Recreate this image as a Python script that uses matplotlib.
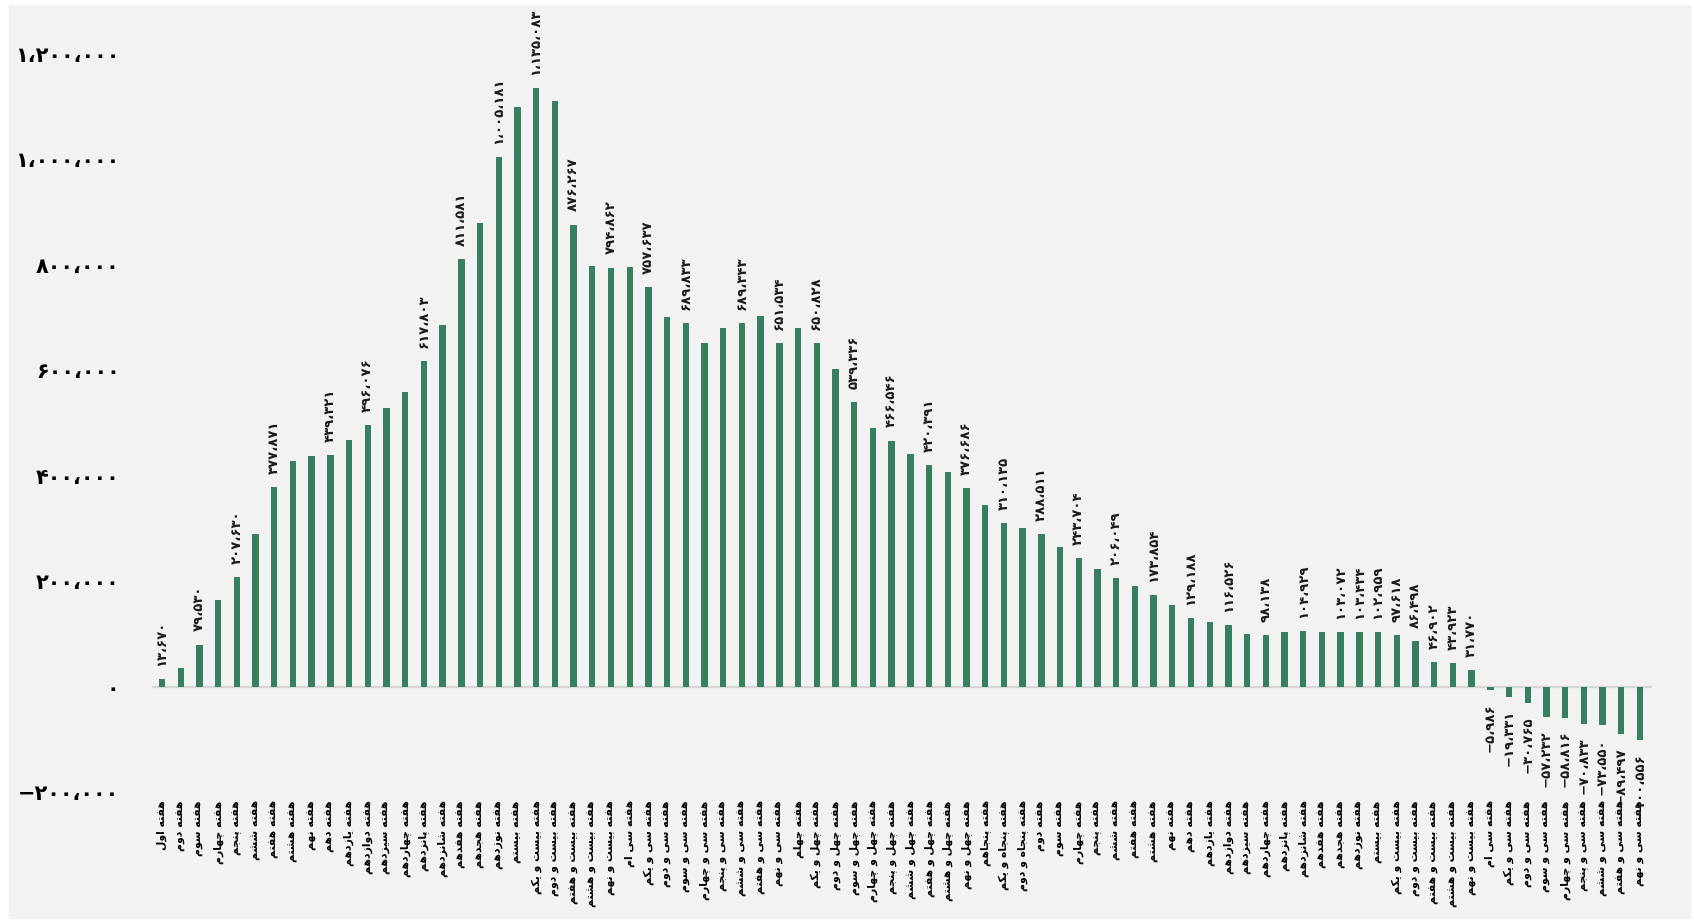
import matplotlib
matplotlib.use("Agg")
import matplotlib.pyplot as plt
from matplotlib.patches import Rectangle
from matplotlib.ticker import FuncFormatter

plt.rcParams['font.family'] = ['DejaVu Sans']

# data: weekly values (two years, some weeks missing)
weeks_y1 = ['اول', 'دوم', 'سوم', 'چهارم', 'پنجم', 'ششم', 'هفتم', 'هشتم', 'نهم', 'دهم',
            'یازدهم', 'دوازدهم', 'سیزدهم', 'چهاردهم', 'پانزدهم', 'شانزدهم', 'هفدهم',
            'هجدهم', 'نوزدهم', 'بیستم', 'بیست و یکم', 'بیست و دوم', 'بیست و هفتم',
            'بیست و هشتم', 'بیست و نهم', 'سی ام', 'سی و یکم', 'سی و دوم', 'سی و سوم',
            'سی و چهارم', 'سی و پنجم', 'سی و ششم', 'سی و هفتم', 'سی و نهم', 'چهلم',
            'چهل و یکم', 'چهل و دوم', 'چهل و سوم', 'چهل و چهارم', 'چهل و پنجم',
            'چهل و ششم', 'چهل و هفتم', 'چهل و هشتم', 'چهل و نهم', 'پنجاهم',
            'پنجاه و یکم', 'پنجاه و دوم']
weeks_y2 = ['دوم', 'سوم', 'چهارم', 'پنجم', 'ششم', 'هفتم', 'هشتم', 'نهم', 'دهم',
            'یازدهم', 'دوازدهم', 'سیزدهم', 'چهاردهم', 'پانزدهم', 'شانزدهم', 'هفدهم',
            'هجدهم', 'نوزدهم', 'بیستم', 'بیست و یکم', 'بیست و دوم', 'بیست و هفتم',
            'بیست و هشتم', 'بیست و نهم', 'سی ام', 'سی و یکم', 'سی و دوم', 'سی و سوم',
            'سی و چهارم', 'سی و پنجم', 'سی و ششم', 'سی و هفتم', 'سی و نهم']
week_labels = ['هفته ' + w for w in weeks_y1 + weeks_y2]

values = [13670, 35000, 79530, 165000, 207630, 289000, 377871, 428000, 437000, 439321,
          467000, 496076, 528000, 559000, 617803, 685000, 811581, 880000, 1005181, 1100000,
          1135083, 1111000, 876267, 797000, 794862, 795000, 757637, 702000, 689833, 652000,
          680000, 689343, 703000, 651534, 680000, 650828, 603000, 539336, 490000, 466546,
          441000, 420391, 407000, 376686, 344000, 310135, 301000, 288511, 264000, 243704,
          223000, 206049, 190000, 173854, 155000, 129188, 123000, 116526, 100000, 98138,
          103500, 104929, 103500, 103072, 103434, 102959, 97618, 86498, 46902, 43923,
          31770, -5986, -19331, -30765, -57232, -58816, -70833, -73550, -89497, -100556]

# weeks (1-based) that carry a value label
labeled = [1, 3, 5, 7, 10, 12, 15, 17, 19, 21, 23, 25, 27, 29, 32, 34, 36, 38, 40, 42,
           44, 46, 48, 50, 52, 54, 56, 58, 60, 62] + list(range(64, 81))

y_ticks = [-200000, 0, 200000, 400000, 600000, 800000, 1000000, 1200000]

# --- simple persian shaping (matplotlib has no bidi / joining) ---
FORMS = {
    'ا': ('\uFE8D', '\uFE8E', None, None),
    'ب': ('\uFE8F', '\uFE90', '\uFE91', '\uFE92'),
    'پ': ('\uFB56', '\uFB57', '\uFB58', '\uFB59'),
    'ت': ('\uFE95', '\uFE96', '\uFE97', '\uFE98'),
    'ج': ('\uFE9D', '\uFE9E', '\uFE9F', '\uFEA0'),
    'چ': ('\uFB7A', '\uFB7B', '\uFB7C', '\uFB7D'),
    'د': ('\uFEA9', '\uFEAA', None, None),
    'ر': ('\uFEAD', '\uFEAE', None, None),
    'ز': ('\uFEAF', '\uFEB0', None, None),
    'س': ('\uFEB1', '\uFEB2', '\uFEB3', '\uFEB4'),
    'ش': ('\uFEB5', '\uFEB6', '\uFEB7', '\uFEB8'),
    'ف': ('\uFED1', '\uFED2', '\uFED3', '\uFED4'),
    'ک': ('\uFB8E', '\uFB8F', '\uFB90', '\uFB91'),
    'ل': ('\uFEDD', '\uFEDE', '\uFEDF', '\uFEE0'),
    'م': ('\uFEE1', '\uFEE2', '\uFEE3', '\uFEE4'),
    'ن': ('\uFEE5', '\uFEE6', '\uFEE7', '\uFEE8'),
    'ه': ('\uFEE9', '\uFEEA', '\uFEEB', '\uFEEC'),
    'و': ('\uFEED', '\uFEEE', None, None),
    'ی': ('\uFBFC', '\uFBFD', '\uFBFE', '\uFBFF'),
}


def shape(text):
    out = []
    for i, ch in enumerate(text):
        if ch not in FORMS:
            out.append(ch)
            continue
        prev = text[i - 1] if i > 0 else ''
        nxt = text[i + 1] if i + 1 < len(text) else ''
        join_prev = prev in FORMS and FORMS[prev][2] is not None
        join_next = FORMS[ch][2] is not None and nxt in FORMS
        iso, fin, ini, med = FORMS[ch]
        if join_prev and join_next:
            out.append(med)
        elif join_prev:
            out.append(fin)
        elif join_next:
            out.append(ini)
        else:
            out.append(iso)
    return ''.join(out)[::-1]


FA_DIGITS = str.maketrans('0123456789', '۰۱۲۳۴۵۶۷۸۹')


def fa_num(v):
    s = f"{abs(int(v)):,}".replace(',', '،').translate(FA_DIGITS)
    return '−' + s if v < 0 else s


fig = plt.figure(figsize=(16.94, 9.22), dpi=100, facecolor='white')
fig.patches.append(Rectangle((9 / 1694, 4 / 922), 1681 / 1694, 913 / 922,
                             transform=fig.transFigure, color='#f2f2f2', zorder=-10))

# axes box: y=-200k at 792 px, y=1.2M at 54 px from the top
ax = fig.add_axes([151.5 / 1694, 1 - 792 / 922, (1652 - 151.5) / 1694, (792 - 54) / 922])
ax.set_facecolor('none')

x = list(range(1, len(values) + 1))
ax.bar(x, values, width=0.34, color='#36805f', zorder=3)
ax.axhline(0, color='#d6d6d6', lw=1.6, zorder=2)

for n in labeled:
    v = values[n - 1]
    if v >= 0:
        ax.annotate(fa_num(v), (n, v), xytext=(0, 9.5), textcoords='offset points',
                    rotation=90, ha='center', va='bottom', fontsize=9.5,
                    fontweight='bold', color='#1a1a1a')
    else:
        ax.annotate(fa_num(v), (n, v), xytext=(0, -9.5), textcoords='offset points',
                    rotation=90, ha='center', va='top', fontsize=9.5,
                    fontweight='bold', color='#1a1a1a')

ax.set_xlim(0.44, 80.64)
ax.set_ylim(-200000, 1200000)
ax.set_yticks(y_ticks)
ax.yaxis.set_major_formatter(FuncFormatter(lambda v, p: fa_num(v)))
ax.set_xticks(x)
ax.set_xticklabels([shape(t) for t in week_labels], rotation=90, fontsize=7.8,
                   fontweight='bold')
ax.tick_params(axis='y', length=0, pad=23, labelsize=15)
ax.tick_params(axis='x', length=0, pad=6)
for t in ax.get_yticklabels():
    t.set_fontweight('bold')
for s in ax.spines.values():
    s.set_visible(False)

fig.savefig('out.png', dpi=100, facecolor='white')
